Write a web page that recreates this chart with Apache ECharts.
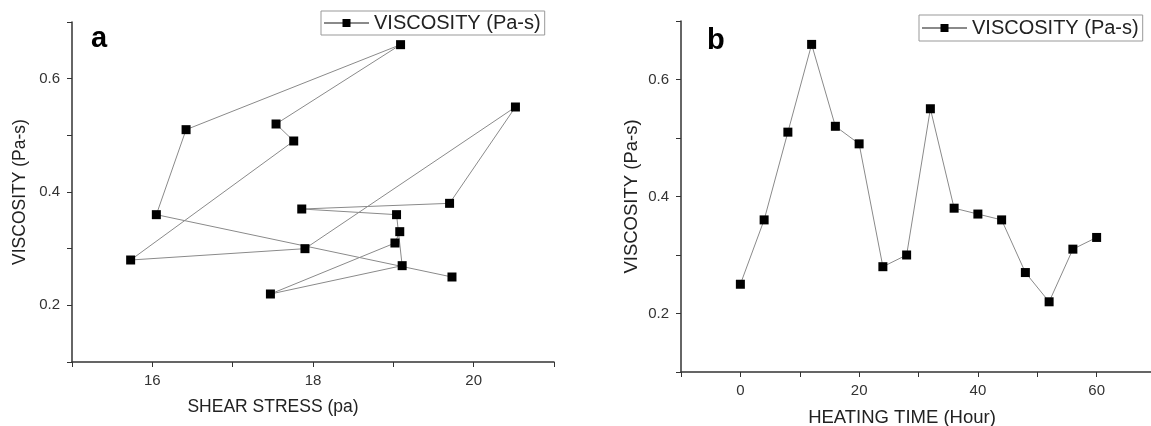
<!DOCTYPE html>
<html>
<head>
  <meta charset="utf-8">
  <script src="https://cdn.jsdelivr.net/npm/echarts@6/dist/echarts.min.js"></script>
  <style>
    html, body { margin: 0; padding: 0; background: #fff; }
    #chart { width: 1151px; height: 426px; }
  </style>
</head>
<body>
  <div id="chart"></div>
  <script>
    // readings taken in time order: panel a plots them against shear stress, panel b against time
    const heatingTime = [0, 4, 8, 12, 16, 20, 24, 28, 32, 36, 40, 44, 48, 52, 56, 60]
    const shearStress = [19.73, 16.05, 16.42, 19.09, 17.54, 17.76, 15.73, 17.90, 20.52, 19.70, 17.86, 19.04, 19.11, 17.47, 19.02, 19.08]
    const viscosity = [0.25, 0.36, 0.51, 0.66, 0.52, 0.49, 0.28, 0.30, 0.55, 0.38, 0.37, 0.36, 0.27, 0.22, 0.31, 0.33]
    const seriesName = 'VISCOSITY (Pa-s)'

    const font = "'Liberation Sans', Arial, sans-serif"
    const ink = '#222'

    function pairs(xs, ys) {
      return xs.map((x, i) => [x, ys[i]])
    }

    function xAxis(grid, name, min, max, step, labelStep, pad, size) {
      return {
        type: 'value', gridIndex: grid, min: min, max: max, interval: step,
        name: name, nameLocation: 'middle', nameGap: 36,
        nameTextStyle: { color: ink, fontSize: size, fontFamily: font, padding: [0, pad, 0, 0] },
        splitLine: { show: false },
        axisLine: { onZero: false, lineStyle: { color: '#333', width: 1.5 } },
        axisTick: { length: 5, lineStyle: { color: '#333' } },
        axisLabel: {
          color: '#333', fontSize: 15, fontFamily: font, margin: 11,
          formatter: v => (Math.round(v) % labelStep === 0 ? String(Math.round(v)) : '')
        }
      }
    }

    function yAxis(grid, gap, size) {
      return {
        type: 'value', gridIndex: grid, min: 0.1, max: 0.7, interval: 0.1,
        name: seriesName, nameLocation: 'middle', nameGap: gap,
        nameTextStyle: { color: ink, fontSize: size, fontFamily: font },
        splitLine: { show: false },
        axisLine: { onZero: false, lineStyle: { color: '#333', width: 1.5 } },
        axisTick: { length: 5, lineStyle: { color: '#333' } },
        axisLabel: {
          color: '#333', fontSize: 15, fontFamily: font, margin: 12,
          formatter: v => (Math.round(v * 10) % 2 === 0 ? v.toFixed(1) : '')
        }
      }
    }

    function series(idx, data) {
      return {
        name: seriesName, type: 'line', xAxisIndex: idx, yAxisIndex: idx,
        data: data, symbol: 'rect', symbolSize: 9,
        itemStyle: { color: '#000' },
        lineStyle: { color: '#8a8a8a', width: 1 },
        emphasis: { disabled: true }
      }
    }

    function legend(left, top, pad) {
      return {
        left: left, top: top, orient: 'horizontal',
        data: [seriesName], itemWidth: 45, itemHeight: 10,
        padding: pad, borderColor: '#999', borderWidth: 1,
        textStyle: { color: ink, fontSize: 20, fontFamily: font }
      }
    }

    const option = {
      animation: false,
      grid: [
        { left: 72, top: 22, width: 482, height: 340, outerBoundsMode: 'none' },
        { left: 681, top: 21, width: 475, height: 351, outerBoundsMode: 'none' }
      ],
      xAxis: [
        xAxis(0, 'SHEAR STRESS (pa)', 15, 21, 1, 2, 80, 17.5),
        xAxis(1, 'HEATING TIME (Hour)', -10, 70, 10, 20, 33, 18.5)
      ],
      yAxis: [yAxis(0, 43, 17.5), yAxis(1, 40, 18.5)],
      legend: [legend(321, 11, [2, 4, 2, 2]), legend(919, 15, [3, 4, 3, 2])],
      graphic: [
        { type: 'text', left: 91, top: 24, style: { text: 'a', font: 'bold 29px ' + font, fill: '#000' } },
        { type: 'text', left: 707, top: 26, style: { text: 'b', font: 'bold 29px ' + font, fill: '#000' } }
      ],
      series: [
        series(0, pairs(shearStress, viscosity)),
        series(1, pairs(heatingTime, viscosity))
      ]
    }

    drawChart('#chart', option)

    function drawChart(selector, option) {
      const chartDom = document.querySelector(selector)
      const chart = echarts.init(chartDom)
      chart.setOption(option)
    }
  </script>
</body>
</html>
